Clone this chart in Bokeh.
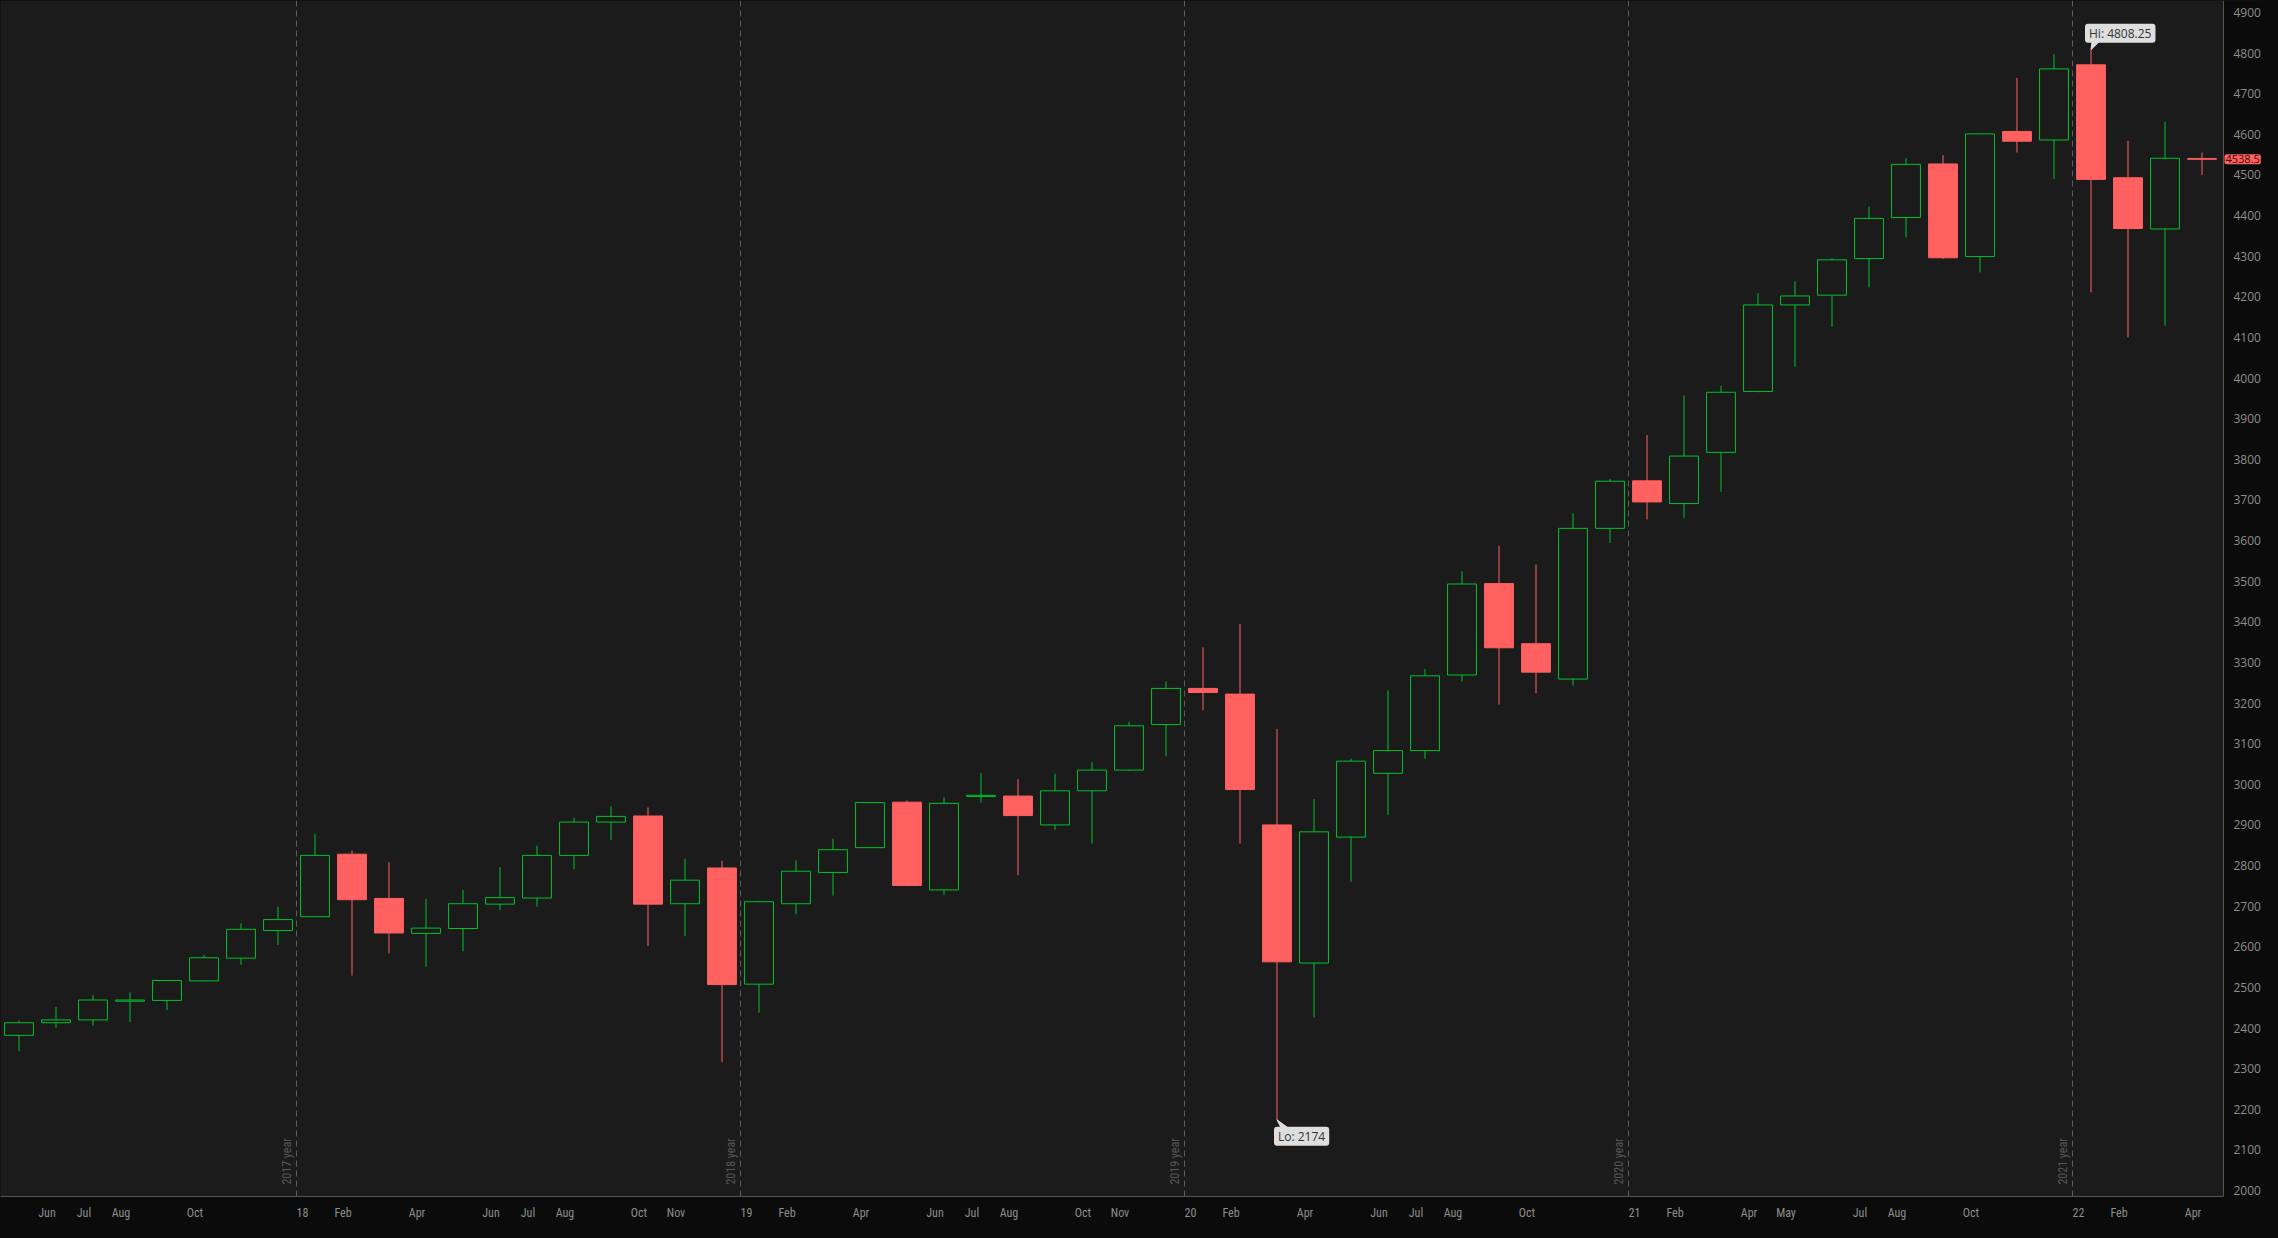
import math
from bokeh.plotting import figure
from bokeh.models import (Range1d, FixedTicker, Label, ColumnDataSource, Span,
                          BoxAnnotation, GlobalInlineStyleSheet)
from bokeh.embed import file_html
from bokeh.resources import INLINE

# ---------------- data (monthly candles, May 2017 - Apr 2022) ----------------
months = ["2017-05", "2017-06", "2017-07", "2017-08", "2017-09", "2017-10", "2017-11", "2017-12",
          "2018-01", "2018-02", "2018-03", "2018-04", "2018-05", "2018-06", "2018-07", "2018-08",
          "2018-09", "2018-10", "2018-11", "2018-12",
          "2019-01", "2019-02", "2019-03", "2019-04", "2019-05", "2019-06", "2019-07", "2019-08",
          "2019-09", "2019-10", "2019-11", "2019-12",
          "2020-01", "2020-02", "2020-03", "2020-04", "2020-05", "2020-06", "2020-07", "2020-08",
          "2020-09", "2020-10", "2020-11", "2020-12",
          "2021-01", "2021-02", "2021-03", "2021-04", "2021-05", "2021-06", "2021-07", "2021-08",
          "2021-09", "2021-10", "2021-11", "2021-12",
          "2022-01", "2022-02", "2022-03", "2022-04"]

open_ = [2382, 2413, 2420, 2466, 2468, 2516, 2572, 2640,
         2674, 2828, 2719, 2633, 2645, 2705, 2720, 2825, 2907, 2922, 2706, 2794,
         2508, 2706, 2783, 2844, 2956, 2740, 2970, 2971, 2900, 2984, 3035, 3147,
         3236, 3222, 2900, 2560, 2870, 3027, 3083, 3269, 3494, 3346, 3259, 3630,
         3747, 3691, 3817, 3967, 4180, 4204, 4294, 4395, 4527, 4299, 4607, 4586,
         4771, 4493, 4367, 4540.5]
high = [2418, 2452, 2481, 2488, 2518, 2580, 2658, 2699,
        2878, 2837, 2808, 2718, 2740, 2796, 2849, 2917, 2946, 2943, 2817, 2812,
        2713, 2813, 2866, 2956, 2960, 2968, 3028, 3013, 3026, 3055, 3154, 3253,
        3337, 3395, 3136, 2964, 3063, 3231, 3284, 3524, 3587, 3541, 3667, 3751,
        3860, 3957, 3981, 4209, 4238, 4295, 4422, 4541, 4549, 4602, 4739, 4797,
        4808.25, 4584, 4631, 4555]
low = [2343, 2401, 2406, 2415, 2444, 2515, 2556, 2604,
       2674, 2529, 2584, 2551, 2589, 2691, 2699, 2791, 2863, 2602, 2626, 2316,
       2438, 2680, 2726, 2843, 2749, 2728, 2955, 2776, 2888, 2854, 3033, 3069,
       3182, 2854, 2174, 2426, 2760, 2925, 3063, 3253, 3196, 3224, 3243, 3594,
       3652, 3655, 3720, 3965, 4028, 4126, 4223, 4346, 4293, 4260, 4555, 4490,
       4211, 4100, 4129, 4500]
close = [2413, 2420, 2469, 2469, 2517, 2573, 2643, 2667,
         2825, 2716, 2634, 2646, 2706, 2721, 2825, 2907, 2921, 2705, 2764, 2507,
         2711, 2786, 2839, 2955, 2751, 2953, 2973, 2923, 2984, 3035, 3144, 3236,
         3226, 2987, 2563, 2883, 3057, 3083, 3267, 3493, 3336, 3276, 3630, 3746,
         3695, 3808, 3965, 4180, 4202, 4291, 4393, 4526, 4296, 4601, 4583, 4761,
         4489, 4368, 4541, 4538.5]

# bottom axis labels (month index -> text)
x_tick_index = [1, 2, 3, 5,
                8, 9, 11, 13, 14, 15, 17, 18,
                20, 21, 23, 25, 26, 27, 29, 30,
                32, 33, 35, 37, 38, 39, 41,
                44, 45, 47, 48, 50, 51, 53,
                56, 57, 59]
x_tick_text = ["Jun", "Jul", "Aug", "Oct",
               "18", "Feb", "Apr", "Jun", "Jul", "Aug", "Oct", "Nov",
               "19", "Feb", "Apr", "Jun", "Jul", "Aug", "Oct", "Nov",
               "20", "Feb", "Apr", "Jun", "Jul", "Aug", "Oct",
               "21", "Feb", "Apr", "May", "Jul", "Aug", "Oct",
               "22", "Feb", "Apr"]

year_break_index = [8, 20, 32, 44, 56]
year_break_text = ["2017 year", "2018 year", "2019 year", "2020 year", "2021 year"]

y_ticks = list(range(2000, 5000, 100))

# ---------------- style ----------------
BG = "#1b1b1b"
AXBG = "#0b0b0b"
GREEN = "#00c22b"
RED = "#ff6161"
AXIS_TXT = "#8d8d8d"
SEP = "#5c5c5c"
NARROW = "'Roboto Condensed', 'Liberation Sans Narrow', 'DejaVu Sans Condensed', 'Open Sans', sans-serif"

W, H = 2262, 1222
MB_B = 18
FW, FH = W, H - MB_B
AXIS_PX = 2223                 # screen x of the price-axis line
PXX = 37.0                     # px per month
X0 = -18.5 / PXX
X1 = X0 + FW / PXX
XAX = X0 + AXIS_PX / PXX       # data x of the price-axis line
PXY = (1198 - 12) / 2900.0     # px per price unit
Y1 = 4900 + 12 / PXY
Y0 = Y1 - FH / PXY

n = len(months)
xs = list(range(n))
up = [c >= o for o, c in zip(open_, close)]
col = [GREEN if u else RED for u in up]
fill = [BG if u else RED for u in up]
src = ColumnDataSource(dict(
    x=xs, o=open_, h=high, l=low, c=close,
    top=[max(o, c) for o, c in zip(open_, close)],
    bot=[min(o, c) for o, c in zip(open_, close)],
    col=col, fill=fill))

p = figure(width=W, height=H, output_backend="svg", toolbar_location=None,
           x_range=Range1d(X0, X1), y_range=Range1d(Y0, Y1),
           y_axis_location="right",
           min_border_left=0, min_border_top=0, min_border_right=0, min_border_bottom=MB_B,
           background_fill_color=BG, border_fill_color=AXBG)
p.outline_line_color = None
p.grid.grid_line_color = None
p.stylesheets = [GlobalInlineStyleSheet(css="html, body { background-color: #0b0b0b; }")]

# dark price-axis strip
p.add_layout(BoxAnnotation(left=XAX, fill_color=AXBG, fill_alpha=1.0, line_color=None,
                           level="underlay"))

# year separators
for i in year_break_index:
    p.add_layout(Span(location=i - 0.5, dimension="height", line_color=SEP,
                      line_width=1, line_dash="6 4"))
p.text(x=[i - 0.5 - 3 / PXX for i in year_break_index],
       y=[Y0 + 12 / PXY] * len(year_break_index),
       text=year_break_text, angle=math.pi / 2,
       text_align="left", text_baseline="bottom",
       text_color="#575757", text_font_size="12px",
       text_font={"value": NARROW})

# candles
p.segment(x0="x", y0="l", x1="x", y1="h", line_color="col", line_width=1, source=src)
p.vbar(x="x", width=0.78, top="top", bottom="bot", fill_color="fill",
       line_color="col", line_width=1, source=src)

# axes
tick_pos = [i - 0.5 + (9.5 if len(t) > 2 else 6.0) / PXX for i, t in zip(x_tick_index, x_tick_text)]
p.xaxis.ticker = FixedTicker(ticks=tick_pos)
p.xaxis.major_label_overrides = {pos: t for pos, t in zip(tick_pos, x_tick_text)}
p.xaxis.bounds = (X0, XAX)
p.yaxis.ticker = FixedTicker(ticks=y_ticks)
p.yaxis.fixed_location = XAX
for ax in (p.xaxis, p.yaxis):
    ax.axis_line_color = "#555555"
    ax.major_tick_line_color = None
    ax.minor_tick_line_color = None
    ax.major_label_text_color = AXIS_TXT
    ax.major_label_text_font_size = "12px"
p.xaxis.major_label_text_font = NARROW
p.xaxis.major_label_standoff = 3
p.yaxis.major_label_text_font = "Open Sans"
p.yaxis.major_label_standoff = 4

# Hi / Lo callouts
hi_i = high.index(max(high))
lo_i = low.index(min(low))
hi_v, lo_v = high[hi_i], low[lo_i]
BOX = "#dedede"
p.patch(x=[hi_i, hi_i + 1 / PXX, hi_i + 8 / PXX],
        y=[hi_v, hi_v + 8 / PXY, hi_v + 8 / PXY], color=BOX)
p.add_layout(Label(x=hi_i, y=hi_v, x_offset=-6, y_offset=7, text=f"Hi: {hi_v:g}",
                   text_align="left", text_baseline="bottom", text_font="Open Sans",
                   text_font_size="12px", text_color="#333333",
                   background_fill_color=BOX, border_radius=3,
                   padding=dict(left=4, right=4, top=1, bottom=1)))
p.patch(x=[lo_i, lo_i + 4 / PXX, lo_i + 11 / PXX],
        y=[lo_v, lo_v - 8 / PXY, lo_v - 8 / PXY], color=BOX)
p.add_layout(Label(x=lo_i, y=lo_v, x_offset=-3, y_offset=-7, text=f"Lo: {lo_v:g}",
                   text_align="left", text_baseline="top", text_font="Open Sans",
                   text_font_size="12px", text_color="#333333",
                   background_fill_color=BOX, border_radius=3,
                   padding=dict(left=4, right=4, top=1, bottom=1)))

# current price tag on the price axis
p.add_layout(Label(x=XAX, y=close[-1], x_offset=1, text=f"{close[-1]:.1f}",
                   text_align="left", text_baseline="middle", text_font="Open Sans",
                   text_font_size="11px", text_color="#3a0b0b",
                   background_fill_color=RED, border_radius=2,
                   padding=dict(left=1, right=1, top=1, bottom=1)))

open("out.html", "w").write(file_html(p, INLINE))
